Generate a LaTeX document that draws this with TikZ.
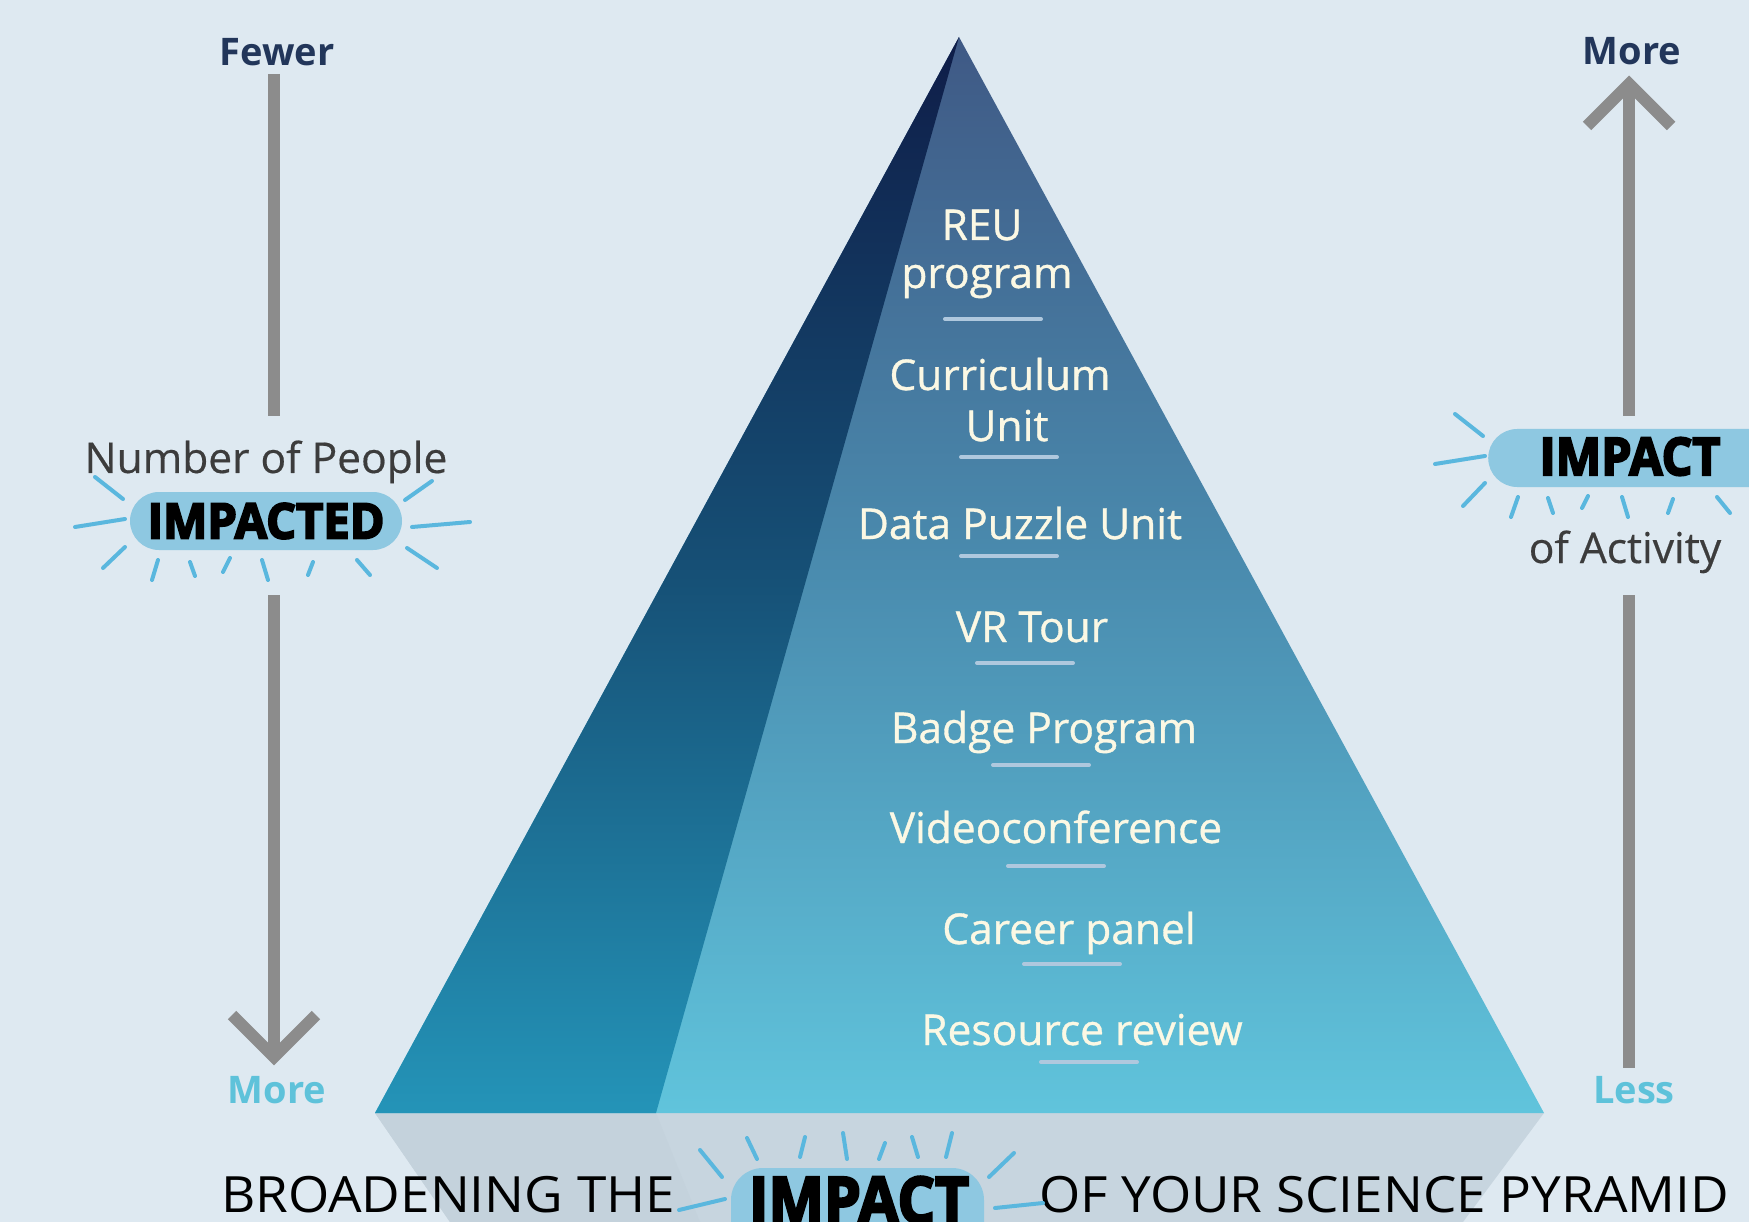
\documentclass[tikz,border=0pt]{standalone}
\usepackage{fontspec}
\usepackage{graphicx}
\setmainfont{Open Sans}
\newfontfamily\semib[FakeBold=0.8]{Open Sans}
\newfontfamily\lightb[FakeBold=0.4]{Open Sans}
\newfontfamily\heavy[BoldFeatures={FakeBold=4}]{Open Sans}
\definecolor{bgc}{RGB}{222,233,241}
\definecolor{shadowc}{RGB}{199,213,223}
\definecolor{shadowd}{RGB}{196,210,220}
\definecolor{rTop}{RGB}{63,89,133}
\definecolor{rMid}{RGB}{74,140,175}
\definecolor{rBot}{RGB}{96,196,220}
\definecolor{lTop}{RGB}{15,29,72}
\definecolor{lMid}{RGB}{22,80,118}
\definecolor{lBot}{RGB}{36,148,184}
\definecolor{rayc}{RGB}{90,183,222}
\definecolor{pillc}{RGB}{142,200,225}
\definecolor{grayc}{RGB}{140,140,140}
\definecolor{navyc}{RGB}{34,54,90}
\definecolor{lbluec}{RGB}{94,194,218}
\definecolor{dgrayc}{RGB}{60,60,60}
\definecolor{creamc}{RGB}{251,248,228}
\definecolor{barc}{RGB}{175,200,222}
\begin{document}
\begin{tikzpicture}[x=1pt,y=-1pt,
  ptext/.style={text=creamc, font=\semib\fontsize{42.5}{50}\selectfont, anchor=base, inner sep=0pt},
  bar/.style={draw=barc, line width=4pt, line cap=round},
  ray/.style={draw=rayc, line width=4pt, line cap=round},
  arr/.style={draw=grayc, line width=12pt},
  endlab/.style={font=\bfseries\fontsize{38}{44}\selectfont, anchor=base, inner sep=0pt},
  sidelab/.style={text=dgrayc, font=\lightb\fontsize{42.5}{48}\selectfont, anchor=base, inner sep=0pt},
  pill/.style={fill=pillc, rounded corners=29pt, inner sep=0pt},
  heavytext/.style={text=black, inner sep=0pt},
  title/.style={text=black, font=\fontsize{50}{56}\selectfont, anchor=base, inner sep=0pt}
]
\useasboundingbox (0,0) rectangle (1749,1222);
\clip (0,0) rectangle (1749,1222);
\fill[bgc] (0,0) rectangle (1749,1222);

% floor shadow
\fill[shadowc] (375,1113) -- (1544,1113) -- (1463,1222) -- (450,1222) -- cycle;
\fill[shadowd] (375,1113) -- (656,1113) -- (700,1222) -- (450,1222) -- cycle;

% pyramid
\shade[top color=rTop, bottom color=rBot, middle color=rMid] (959,37) -- (1544,1113) -- (375,1113) -- cycle;
\shade[top color=lTop, bottom color=lBot, middle color=lMid] (959,37) -- (656,1113) -- (375,1113) -- cycle;

% pyramid texts
\node[ptext] (reu1) at (982,240) {REU};
\node[ptext] (reu2) at (987,288) {program};
\draw[bar] (945,319) -- (1041,319);
\node[ptext] (cur1) at (1000,390) {Curriculum};
\node[ptext] (cur2) at (1007,441) {Unit};
\draw[bar] (961,457) -- (1057,457);
\node[ptext] (data) at (1020,539) {Data Puzzle Unit};
\draw[bar] (961,556) -- (1057,556);
\node[ptext] (vr) at (1032,642) {VR Tour};
\draw[bar] (977,663) -- (1073,663);
\node[ptext] (badge) at (1044,743) {Badge Program};
\draw[bar] (993,765) -- (1089,765);
\node[ptext] (video) at (1056,843) {Videoconference};
\draw[bar] (1008,866) -- (1104,866);
\node[ptext] (career) at (1069,944) {Career panel};
\draw[bar] (1024,964) -- (1120,964);
\node[ptext] (res) at (1082,1045) {Resource review};
\draw[bar] (1041,1062) -- (1137,1062);

% left scale
\node[endlab, text=navyc] (fewer) at (277,66) {Fewer};
\node[sidelab] (people) at (266,473) {Number of People};
\node[pill, minimum width=272pt, minimum height=58pt] (impd) at (266,521)
  {\heavy\bfseries\fontsize{49}{56}\selectfont\scalebox{0.96}[1]{IMPACTED}};
\node[endlab, text=lbluec] (moreL) at (277,1103) {More};
\coordinate (L1) at (274,74);
\coordinate (L2) at (274,416);
\coordinate (L3) at (274,595);
\coordinate (L4) at (274,1057);
\draw[arr] (L1) -- (L2);
\draw[arr] (L3) -- (L4);
\draw[arr, miter limit=4] (232,1015) -- (L4) -- (316,1015);
\foreach \a/\b/\c/\d in {95/477/123/499, 75/527/125/519, 103/568/125/547, 152/580/158/560,
  190/562/195/576, 223/572/230/558, 262/560/268/580, 308/575/313/562, 357/560/370/575,
  407/548/437/568, 412/527/470/522, 405/500/432/481}
  \draw[ray] (\a,\b) -- (\c,\d);

% right scale
\node[endlab, text=navyc] (moreR) at (1632,65) {More};
\node[pill, minimum width=300pt, minimum height=58pt, anchor=west] (impR) at (1488,458) {};
\node[heavytext] (impRt) at (1630,456.5)
  {\heavy\bfseries\fontsize{52}{58}\selectfont\scalebox{0.93}[1]{IMPACT}};
\node[sidelab] (activity) at (1625,563) {of Activity};
\node[endlab, text=lbluec] (less) at (1634,1103) {Less};
\coordinate (R1) at (1629,84);
\coordinate (R2) at (1629,416);
\coordinate (R3) at (1629,595);
\coordinate (R4) at (1629,1068);
\draw[arr] (R1) -- (R2);
\draw[arr] (R3) -- (R4);
\draw[arr, miter limit=4] (1587,126) -- (R1) -- (1671,126);
\foreach \a/\b/\c/\d in {1455/414/1483/436, 1435/464/1485/456, 1463/506/1485/483,
  1511/517/1518/497, 1548/498/1553/513, 1582/508/1588/496, 1622/497/1628/517,
  1668/513/1673/499, 1717/497/1730/513}
  \draw[ray] (\a,\b) -- (\c,\d);

% bottom title
\node[title] (t1) at (448,1212) {\scalebox{1.06}[1]{BROADENING THE}};
\node[pill, rounded corners=32pt, minimum width=253pt, minimum height=90pt] (impB) at (857.5,1213) {};
\node[heavytext] (impBt) at (859,1200)
  {\heavy\bfseries\fontsize{64}{70}\selectfont\scalebox{0.92}[1]{IMPACT}};
\node[title] (t2) at (1384,1212) {\scalebox{1.06}[1]{OF YOUR SCIENCE PYRAMID}};
\foreach \a/\b/\c/\d in {700/1150/722/1177, 747/1138/757/1159, 805/1137/800/1157,
  843/1133/847/1159, 885/1143/879/1159, 912/1137/918/1157, 952/1133/946/1157,
  1014/1153/989/1177, 679/1210/725/1199, 995/1208/1043/1203}
  \draw[ray] (\a,\b) -- (\c,\d);
\end{tikzpicture}
\end{document}
